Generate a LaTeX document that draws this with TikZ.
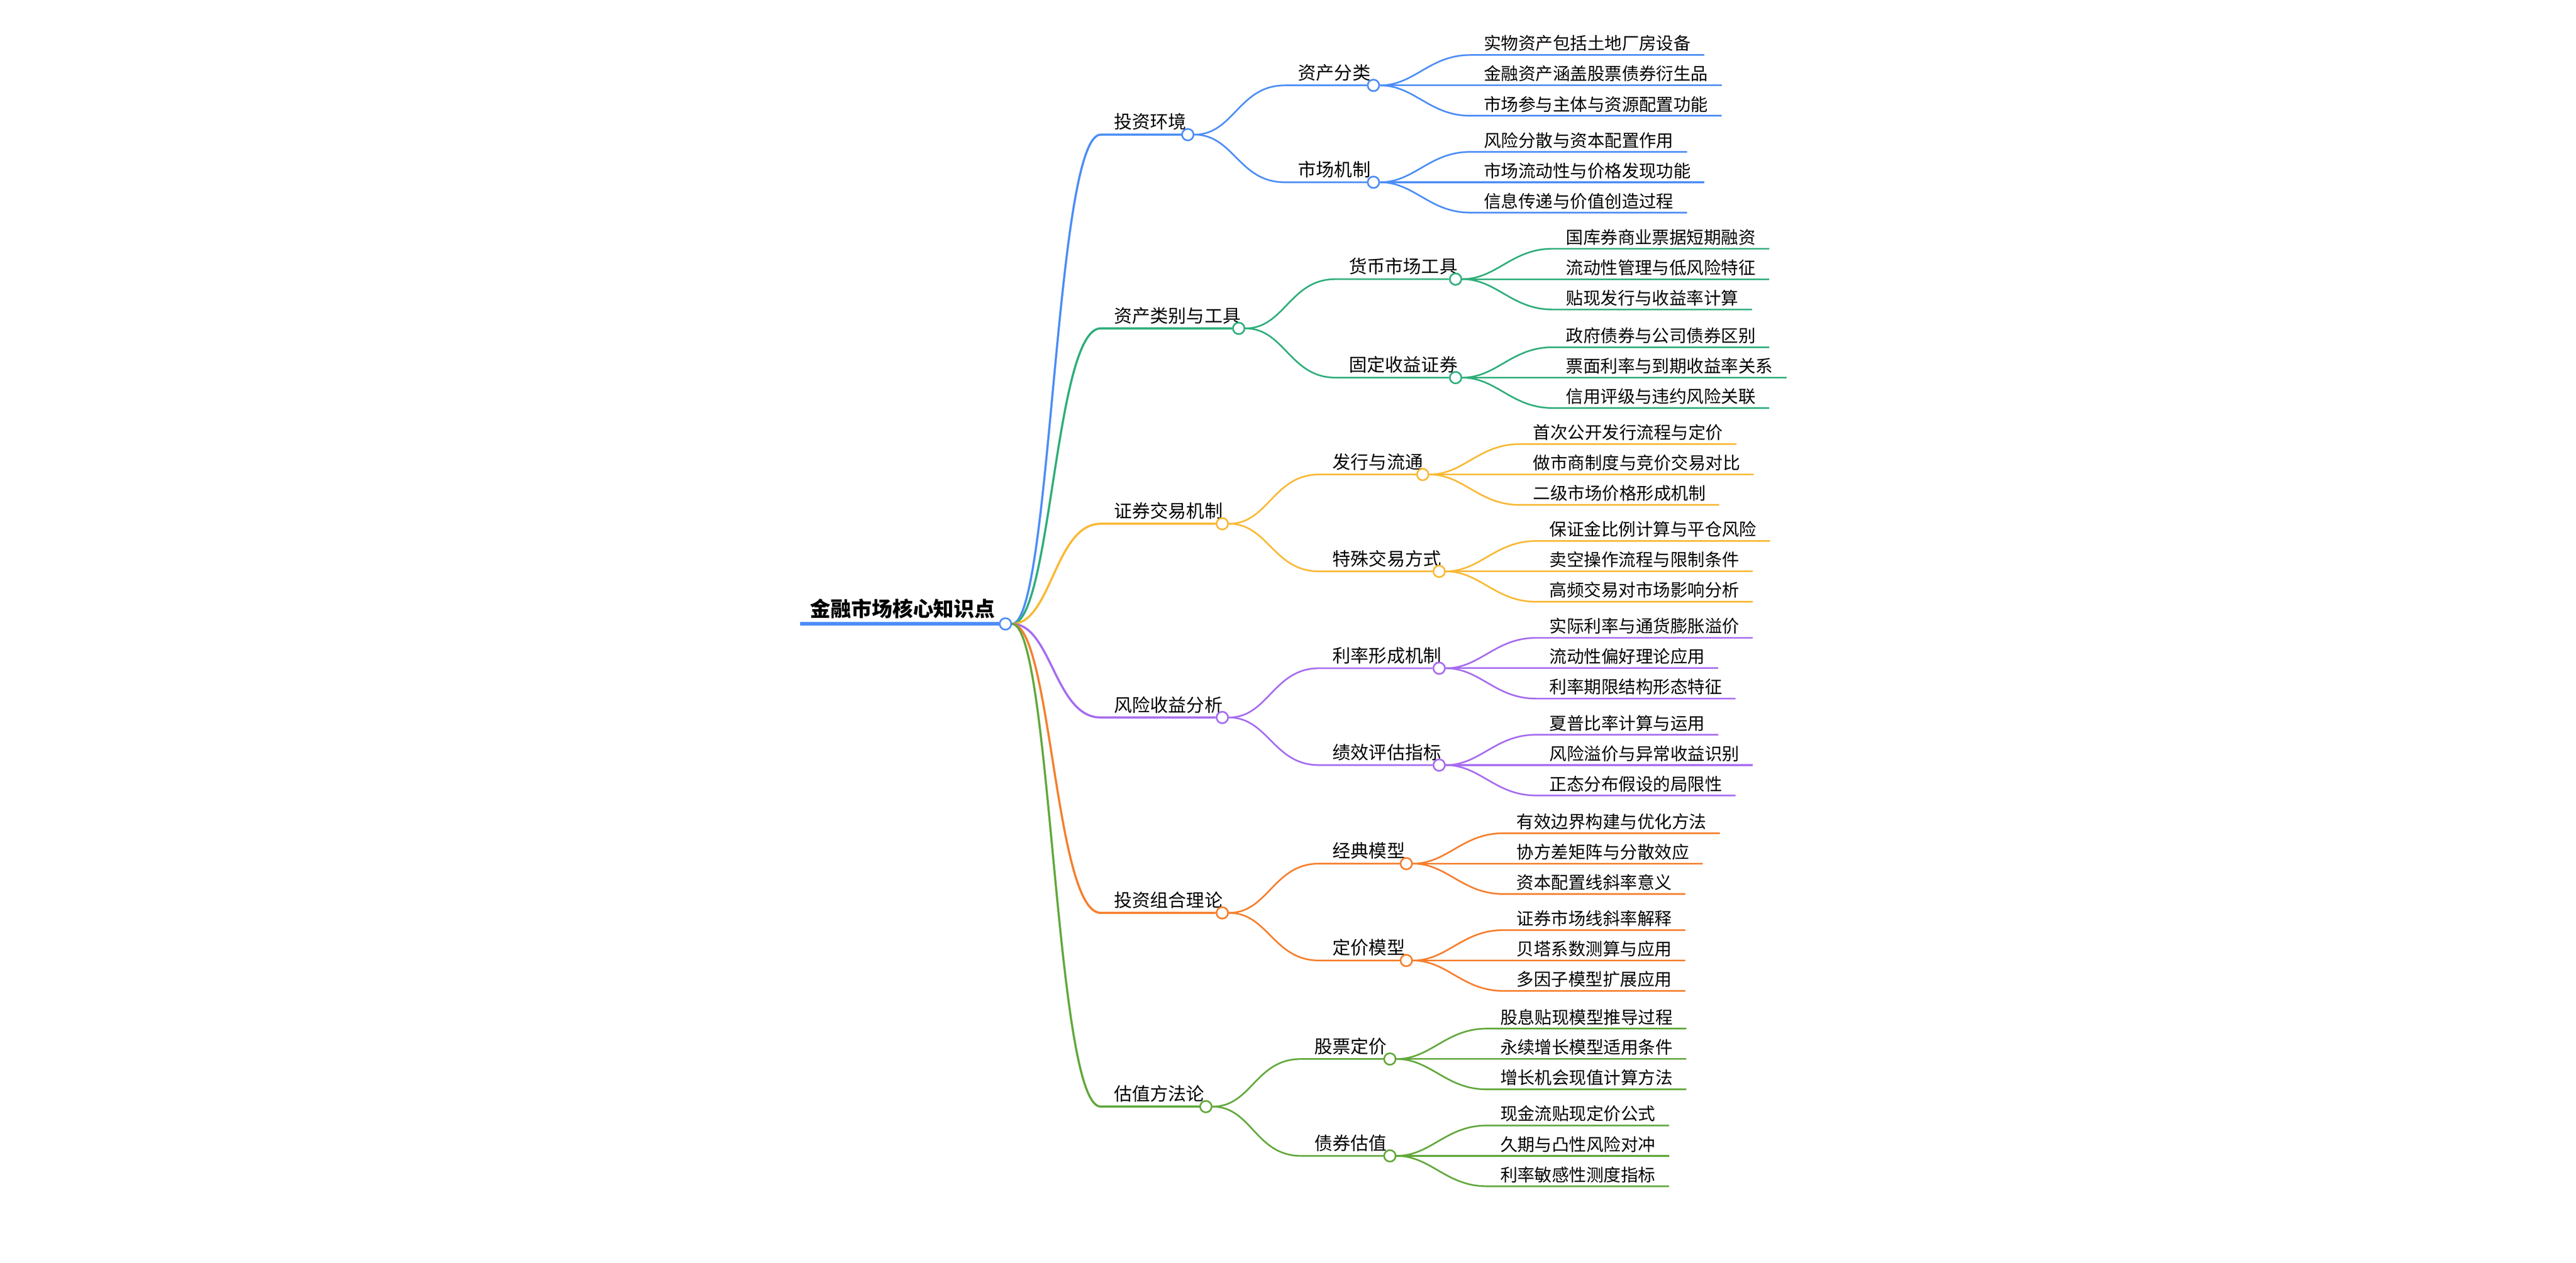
\documentclass[tikz,border=0pt]{standalone}
\usepackage{fontspec}
\setmainfont{Noto Sans CJK SC}
\pgfdeclarelayer{bg}
\pgfsetlayers{bg,main}
\definecolor{cB}{HTML}{4C8DF6}
\definecolor{cG}{HTML}{2FAE7B}
\definecolor{cY}{HTML}{F9B935}
\definecolor{cP}{HTML}{A66CF0}
\definecolor{cO}{HTML}{F57F2D}
\definecolor{cL}{HTML}{62A83C}
\tikzset{
 lf/.style={inner xsep=0pt,inner ysep=2pt,anchor=south west,font=\fontsize{10.5}{12}\selectfont},
 md/.style={inner xsep=0pt,inner ysep=2.5pt,anchor=south west,font=\fontsize{11}{13}\selectfont},
 dot/.style={circle,draw,fill=white,line width=1pt,minimum size=7pt,inner sep=0pt},
}
% leaf: name, parent, x, y, color, text
\newcommand\mmleaf[6]{%
 \node[lf] (#1) at (#3,#4) {#6};
 \coordinate (#1s) at (#3-8,#4);
 \begin{pgfonlayer}{bg}
 \draw[#5,line width=1pt] (#2) .. controls +(25,0) and +(-25,0) .. (#1s) -- (#1.south east |- #1s) -- ++(8,0);
 \end{pgfonlayer}}
% mid: name, parent, x, circlex, y, color, text, width
\newcommand\mmmid[8]{%
 \node[md] (#1) at (#3,#5) {#7};
 \coordinate (#1s) at (#3-8,#5);
 \node[dot,draw=#6] (#1c) at (#4,#5) {};
 \begin{pgfonlayer}{bg}
 \draw[#6,line width=#8] (#2) .. controls +(28,0) and +(-28,0) .. (#1s) -- (#1c);
 \end{pgfonlayer}}
\begin{document}
\begin{tikzpicture}[x=1pt,y=-1pt]
\useasboundingbox (0,0) rectangle (1568,769);
\node[inner sep=0pt,anchor=south west,font=\fontsize{12.5}{14}\bfseries\selectfont] (root) at (493,377) {金融市场核心知识点};
\node[dot,draw=cB] (rc) at (612,380) {};
\coordinate (rs) at (487,380);
\begin{pgfonlayer}{bg}\draw[cB,line width=2.2pt] (rs) -- (rc);\end{pgfonlayer}

\mmmid{a}{rc}{678}{723}{82}{cB}{投资环境}{1.3pt}
\mmmid{b}{rc}{678}{754}{200}{cG}{资产类别与工具}{1.3pt}
\mmmid{c}{rc}{678}{744}{319}{cY}{证券交易机制}{1.3pt}
\mmmid{d}{rc}{678}{744}{437}{cP}{风险收益分析}{1.3pt}
\mmmid{e}{rc}{678}{744}{556}{cO}{投资组合理论}{1.3pt}
\mmmid{f}{rc}{678}{734}{674}{cL}{估值方法论}{1.3pt}

\mmmid{a1}{ac}{790}{836}{52}{cB}{资产分类}{1pt}
\mmmid{a2}{ac}{790}{836}{111}{cB}{市场机制}{1pt}
\mmmid{b1}{bc}{821}{886}{170}{cG}{货币市场工具}{1pt}
\mmmid{b2}{bc}{821}{886}{230}{cG}{固定收益证券}{1pt}
\mmmid{c1}{cc}{811}{866}{289}{cY}{发行与流通}{1pt}
\mmmid{c2}{cc}{811}{876}{348}{cY}{特殊交易方式}{1pt}
\mmmid{d1}{dc}{811}{876}{407}{cP}{利率形成机制}{1pt}
\mmmid{d2}{dc}{811}{876}{466}{cP}{绩效评估指标}{1pt}
\mmmid{e1}{ec}{811}{856}{526}{cO}{经典模型}{1pt}
\mmmid{e2}{ec}{811}{856}{585}{cO}{定价模型}{1pt}
\mmmid{f1}{fc}{800}{846}{645}{cL}{股票定价}{1pt}
\mmmid{f2}{fc}{800}{846}{704}{cL}{债券估值}{1pt}

\mmleaf{a1x}{a1c}{903}{33.5}{cB}{实物资产包括土地厂房设备}
\mmleaf{a1y}{a1c}{903}{52}{cB}{金融资产涵盖股票债券衍生品}
\mmleaf{a1z}{a1c}{903}{70.5}{cB}{市场参与主体与资源配置功能}
\mmleaf{a2x}{a2c}{903}{92.5}{cB}{风险分散与资本配置作用}
\mmleaf{a2y}{a2c}{903}{111}{cB}{市场流动性与价格发现功能}
\mmleaf{a2z}{a2c}{903}{129.5}{cB}{信息传递与价值创造过程}
\mmleaf{b1x}{b1c}{953}{151.5}{cG}{国库券商业票据短期融资}
\mmleaf{b1y}{b1c}{953}{170}{cG}{流动性管理与低风险特征}
\mmleaf{b1z}{b1c}{953}{188.5}{cG}{贴现发行与收益率计算}
\mmleaf{b2x}{b2c}{953}{211.5}{cG}{政府债券与公司债券区别}
\mmleaf{b2y}{b2c}{953}{230}{cG}{票面利率与到期收益率关系}
\mmleaf{b2z}{b2c}{953}{248.5}{cG}{信用评级与违约风险关联}
\mmleaf{c1x}{c1c}{933}{270.5}{cY}{首次公开发行流程与定价}
\mmleaf{c1y}{c1c}{933}{289}{cY}{做市商制度与竞价交易对比}
\mmleaf{c1z}{c1c}{933}{307.5}{cY}{二级市场价格形成机制}
\mmleaf{c2x}{c2c}{943}{329.5}{cY}{保证金比例计算与平仓风险}
\mmleaf{c2y}{c2c}{943}{348}{cY}{卖空操作流程与限制条件}
\mmleaf{c2z}{c2c}{943}{366.5}{cY}{高频交易对市场影响分析}
\mmleaf{d1x}{d1c}{943}{388.5}{cP}{实际利率与通货膨胀溢价}
\mmleaf{d1y}{d1c}{943}{407}{cP}{流动性偏好理论应用}
\mmleaf{d1z}{d1c}{943}{425.5}{cP}{利率期限结构形态特征}
\mmleaf{d2x}{d2c}{943}{447.5}{cP}{夏普比率计算与运用}
\mmleaf{d2y}{d2c}{943}{466}{cP}{风险溢价与异常收益识别}
\mmleaf{d2z}{d2c}{943}{484.5}{cP}{正态分布假设的局限性}
\mmleaf{e1x}{e1c}{923}{507.5}{cO}{有效边界构建与优化方法}
\mmleaf{e1y}{e1c}{923}{526}{cO}{协方差矩阵与分散效应}
\mmleaf{e1z}{e1c}{923}{544.5}{cO}{资本配置线斜率意义}
\mmleaf{e2x}{e2c}{923}{566.5}{cO}{证券市场线斜率解释}
\mmleaf{e2y}{e2c}{923}{585}{cO}{贝塔系数测算与应用}
\mmleaf{e2z}{e2c}{923}{603.5}{cO}{多因子模型扩展应用}
\mmleaf{f1x}{f1c}{913}{626.5}{cL}{股息贴现模型推导过程}
\mmleaf{f1y}{f1c}{913}{645}{cL}{永续增长模型适用条件}
\mmleaf{f1z}{f1c}{913}{663.5}{cL}{增长机会现值计算方法}
\mmleaf{f2x}{f2c}{913}{685.5}{cL}{现金流贴现定价公式}
\mmleaf{f2y}{f2c}{913}{704}{cL}{久期与凸性风险对冲}
\mmleaf{f2z}{f2c}{913}{722.5}{cL}{利率敏感性测度指标}
\end{tikzpicture}
\end{document}
